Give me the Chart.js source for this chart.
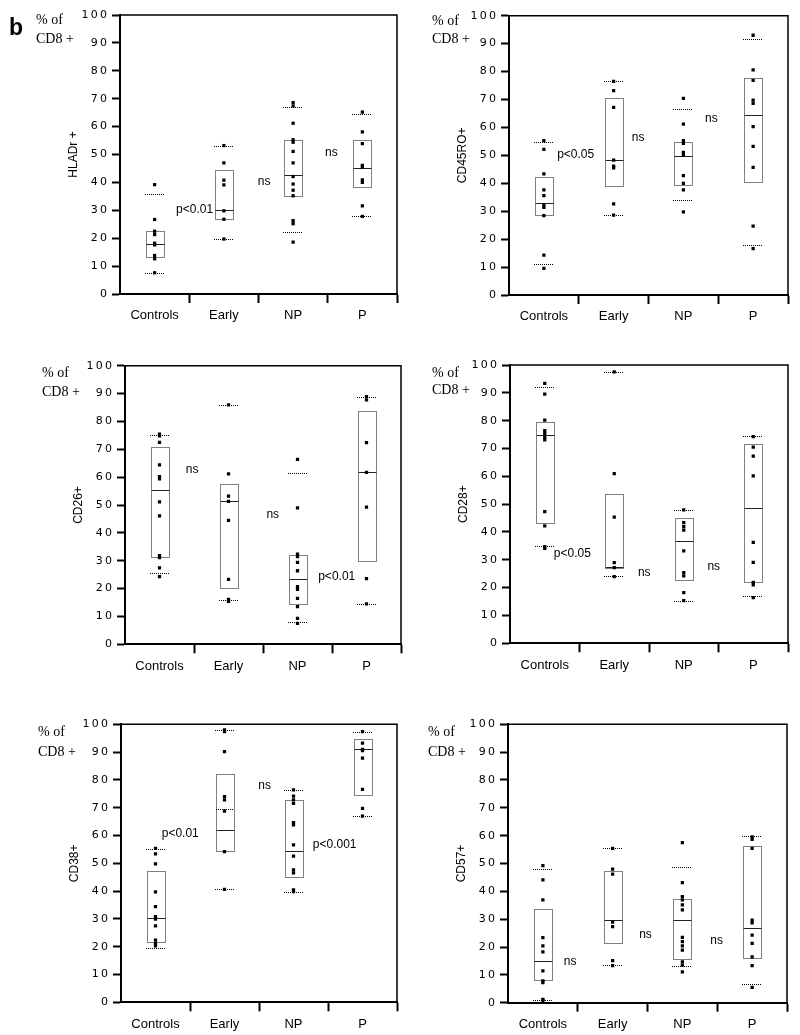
<!DOCTYPE html>
<html><head><meta charset="utf-8">
<script src="https://cdn.jsdelivr.net/npm/chart.js@4.4.0/dist/chart.umd.min.js"></script>
<style>
html,body{margin:0;padding:0;background:#fff;}
#wrap{position:relative;width:800px;height:1035px;overflow:hidden;background:#fff;}
canvas{position:absolute;}
</style></head><body><div id="wrap"></div>
<script>
// ---------------- DATA ----------------
const categories = ['Controls', 'Early', 'NP', 'P'];
const yTickStep = 10;
const yMin = 0, yMax = 100;
const axisTitles = ['HLADr +', 'CD45RO+', 'CD26+', 'CD28+', 'CD38+', 'CD57+'];
const unitLines = ['% of', 'CD8 +'];
const panelLetter = 'b';

// HLADr +
const hladrPoints = [
  [39.2, 26.7, 22.5, 21.3, 18.2, 17.6, 13.8, 12.6, 7.6],
  [53.2, 47.0, 40.8, 39.1, 29.8, 26.8, 19.7],
  [68.6, 67.4, 61.2, 55.3, 54.4, 51.1, 47.0, 42.1, 39.4, 37.2, 35.2, 26.3, 25.2, 18.6],
  [65.2, 58.1, 53.9, 46.1, 45.5, 40.9, 40.0, 31.6, 27.8]
];
const hladrQ1 = [13.1, 26.8, 35.2, 38.2];
const hladrMedian = [17.9, 30.0, 42.5, 45.1];
const hladrQ3 = [22.7, 44.4, 55.3, 55.3];
const hladrP10 = [7.5, 19.7, 22.4, 27.8];
const hladrP90 = [35.9, 53.2, 67.0, 64.6];
const hladrNotes = ['p<0.01', 'ns', 'ns'];

// CD45RO+
const cd45Points = [
  [55.3, 52.1, 43.4, 37.6, 35.6, 32.3, 31.4, 28.4, 14.3, 9.5],
  [76.5, 73.2, 67.2, 48.3, 46.1, 45.5, 32.6, 28.6],
  [70.4, 61.2, 55.3, 54.3, 51.1, 50.2, 42.7, 40.0, 37.6, 29.8],
  [93.0, 80.6, 76.8, 69.8, 68.6, 60.3, 53.2, 45.7, 24.7, 16.6]
];
const cd45Q1 = [28.6, 39.1, 39.4, 40.3];
const cd45Median = [32.9, 48.4, 49.6, 64.6];
const cd45Q3 = [42.1, 70.4, 54.7, 77.7];
const cd45P10 = [11.1, 28.6, 34.0, 17.9];
const cd45P90 = [54.7, 76.5, 66.5, 91.6];
const cd45Notes = ['p<0.05', 'ns', 'ns'];

// CD26+
const cd26Points = [
  [75.4, 74.8, 72.5, 64.4, 60.2, 59.4, 51.1, 46.1, 31.8, 31.1, 27.4, 24.3],
  [85.9, 61.2, 53.2, 51.3, 44.5, 23.3, 16.1, 15.4],
  [66.4, 49.0, 32.4, 31.5, 29.4, 26.4, 20.7, 19.7, 16.5, 13.5, 9.3, 7.5],
  [88.9, 87.7, 72.4, 61.7, 49.2, 23.6, 14.5]
];
const cd26Q1 = [31.5, 20.1, 14.5, 30.0];
const cd26Median = [55.4, 51.6, 23.6, 62.0];
const cd26Q3 = [70.7, 57.4, 31.9, 83.9];
const cd26P10 = [25.6, 15.8, 8.0, 14.5];
const cd26P90 = [75.1, 85.9, 61.6, 88.6];
const cd26Notes = ['ns', 'ns', 'p<0.01'];

// CD28+
const cd28Points = [
  [93.4, 89.5, 80.2, 76.4, 75.4, 74.0, 73.1, 47.3, 42.2, 34.7, 34.1],
  [97.5, 61.0, 45.3, 29.0, 27.2, 24.0],
  [47.9, 43.4, 41.9, 40.7, 33.2, 25.4, 24.2, 18.2, 15.3],
  [74.3, 70.5, 67.3, 60.2, 36.3, 29.1, 21.9, 21.0, 16.4]
];
const cd28Q1 = [43.4, 26.9, 22.8, 22.2];
const cd28Median = [74.9, 27.5, 36.9, 48.5];
const cd28Q3 = [79.4, 53.7, 44.9, 71.6];
const cd28P10 = [35.0, 24.2, 15.3, 17.0];
const cd28P90 = [92.0, 97.5, 47.9, 74.5];
const cd28Notes = ['p<0.05', 'ns', 'ns'];

// CD38+
const cd38Points = [
  [55.4, 53.4, 49.8, 39.7, 34.4, 30.8, 29.9, 27.5, 22.4, 21.2, 20.3],
  [98.0, 97.4, 90.2, 74.0, 72.8, 68.8, 54.2, 40.6],
  [76.4, 74.2, 72.8, 71.6, 64.6, 63.8, 56.6, 52.6, 47.6, 46.6, 40.4, 39.8],
  [97.4, 93.2, 91.0, 90.5, 87.8, 76.6, 69.8, 67.0]
];
const cd38Q1 = [21.8, 54.4, 45.0, 74.7];
const cd38Median = [30.2, 62.0, 54.4, 91.0];
const cd38Q3 = [47.2, 82.0, 72.8, 94.6];
const cd38P10 = [19.7, 40.6, 39.8, 67.0];
const cd38P90 = [55.2, 98.0, 76.4, 97.4];
const cd38Extra = [null, 69.5, null, null];
const cd38Notes = ['p<0.01', 'ns', 'p<0.001'];

// CD57+
const cd57Points = [
  [49.2, 44.1, 36.9, 23.4, 20.4, 18.3, 11.4, 7.8, 7.2, 1.2, 0.7],
  [55.4, 48.0, 46.2, 28.9, 27.3, 15.1, 13.3],
  [57.5, 43.1, 38.1, 36.9, 35.1, 33.3, 23.5, 21.9, 20.4, 18.9, 14.7, 13.5, 11.1],
  [59.6, 58.7, 55.4, 29.7, 28.7, 24.3, 21.3, 16.5, 13.3, 5.5]
];
const cd57Q1 = [8.1, 21.6, 15.6, 16.2];
const cd57Median = [15.0, 29.7, 29.7, 26.7];
const cd57Q3 = [33.7, 47.3, 37.2, 56.3];
const cd57P10 = [1.0, 13.5, 13.2, 6.7];
const cd57P90 = [47.9, 55.4, 48.9, 59.9];
const cd57Notes = ['ns', 'ns', 'ns'];

// --------------- LAYOUT (positions / styles) ---------------
const panels = [
  { title: axisTitles[0], pts: hladrPoints, q1: hladrQ1, med: hladrMedian, q3: hladrQ3, p10: hladrP10, p90: hladrP90, extra: null, notes: hladrNotes,
    canvas: {x: 0, y: 0, w: 405, h: 330}, pad: {left: 66, right: 8, top: 15, bottom: 6},
    notePos: [[0.31, 30.1], [1.49, 40.1], [2.46, 50.5]], unitPos: [36, 20, 39], letter: true },
  { title: axisTitles[1], pts: cd45Points, q1: cd45Q1, med: cd45Median, q3: cd45Q3, p10: cd45P10, p90: cd45P90, extra: null, notes: cd45Notes,
    canvas: {x: 400, y: 0, w: 400, h: 330}, pad: {left: 55, right: 12, top: 15.7, bottom: 5},
    notePos: [[0.19, 50.1], [1.26, 56.2], [2.31, 63.0]], unitPos: [32, 21, 39] },
  { title: axisTitles[2], pts: cd26Points, q1: cd26Q1, med: cd26Median, q3: cd26Q3, p10: cd26P10, p90: cd26P90, extra: null, notes: cd26Notes,
    canvas: {x: 0, y: 330, w: 405, h: 350}, pad: {left: 71, right: 3, top: 35.7, bottom: 5.7},
    notePos: [[0.38, 62.6], [1.55, 46.4], [2.30, 24.2]], unitPos: [42, 43, 62] },
  { title: axisTitles[3], pts: cd28Points, q1: cd28Q1, med: cd28Median, q3: cd28Q3, p10: cd28P10, p90: cd28P90, extra: null, notes: cd28Notes,
    canvas: {x: 400, y: 330, w: 400, h: 350}, pad: {left: 56, right: 12, top: 35, bottom: 6.7},
    notePos: [[0.13, 32.1], [1.34, 25.3], [2.34, 27.4]], unitPos: [32, 43, 60] },
  { title: axisTitles[4], pts: cd38Points, q1: cd38Q1, med: cd38Median, q3: cd38Q3, p10: cd38P10, p90: cd38P90, extra: cd38Extra, notes: cd38Notes,
    canvas: {x: 0, y: 690, w: 405, h: 345}, pad: {left: 67, right: 8, top: 34.3, bottom: 2.7},
    notePos: [[0.09, 60.5], [1.49, 77.8], [2.28, 56.6]], unitPos: [38, 42, 62] },
  { title: axisTitles[5], pts: cd57Points, q1: cd57Q1, med: cd57Median, q3: cd57Q3, p10: cd57P10, p90: cd57P90, extra: null, notes: cd57Notes,
    canvas: {x: 400, y: 690, w: 400, h: 345}, pad: {left: 54, right: 13, top: 34.3, bottom: 2.3},
    notePos: [[0.30, 14.6], [1.38, 24.3], [2.40, 22.2]], unitPos: [28, 42, 62] }
];

const SANS = '"Liberation Sans", Arial, Helvetica, sans-serif';
const SERIF = '"Liberation Serif", "Times New Roman", serif';
Chart.defaults.font.family = SANS;
Chart.defaults.color = '#000';
Chart.defaults.animation = false;

function makePlugin(p) {
  return {
    id: 'boxplot',
    beforeDatasetsDraw(chart) {
      const {ctx} = chart; const x = chart.scales.x, y = chart.scales.y;
      const half = 9, halfP = 10;
      ctx.save();
      ctx.lineWidth = 1;
      for (let i = 0; i < categories.length; i++) {
        const cx = Math.round(x.getPixelForValue(i));
        const top = Math.round(y.getPixelForValue(p.q3[i])) + 0.5;
        const bot = Math.round(y.getPixelForValue(p.q1[i])) + 0.5;
        ctx.strokeStyle = '#000';
        ctx.setLineDash([1, 1]);
        ctx.strokeRect(cx - half + 0.5, top, half * 2, bot - top);
        [p.p10[i], p.p90[i]].forEach(v => {
          const yy = Math.round(y.getPixelForValue(v)) + 0.5;
          ctx.beginPath(); ctx.moveTo(cx - halfP, yy); ctx.lineTo(cx + halfP, yy); ctx.stroke();
        });
        if (p.extra && p.extra[i] != null) {
          const yy = Math.round(y.getPixelForValue(p.extra[i])) + 0.5;
          ctx.beginPath(); ctx.moveTo(cx - half, yy); ctx.lineTo(cx + half, yy); ctx.stroke();
        }
        ctx.setLineDash([]);
        ctx.strokeStyle = '#222';
        const ym = Math.round(y.getPixelForValue(p.med[i])) + 0.5;
        ctx.beginPath(); ctx.moveTo(cx - half + 0.5, ym); ctx.lineTo(cx + half + 0.5, ym); ctx.stroke();
      }
      ctx.restore();
    },
    afterDraw(chart) {
      const {ctx, chartArea: a} = chart; const x = chart.scales.x, y = chart.scales.y;
      ctx.save();
      // frame top & right
      ctx.strokeStyle = '#000'; ctx.lineWidth = 1.5;
      ctx.beginPath(); ctx.moveTo(a.left, a.top); ctx.lineTo(a.right, a.top); ctx.lineTo(a.right, a.bottom); ctx.stroke();
      // notes
      ctx.fillStyle = '#000';
      ctx.font = '12px ' + SANS;
      ctx.textAlign = 'left'; ctx.textBaseline = 'middle';
      p.notes.forEach((t, k) => {
        const [xi, yv] = p.notePos[k];
        ctx.fillText(t, x.getPixelForValue(xi), y.getPixelForValue(yv));
      });
      // unit label
      ctx.font = '14px ' + SERIF;
      ctx.fillText(unitLines[0], p.unitPos[0], p.unitPos[1]);
      ctx.fillText(unitLines[1], p.unitPos[0], p.unitPos[2]);
      if (p.letter) {
        ctx.font = 'bold 23px ' + SANS;
        ctx.textBaseline = 'alphabetic';
        ctx.fillText(panelLetter, 9, 35);
      }
      ctx.restore();
    }
  };
}

const wrap = document.getElementById('wrap');
panels.forEach(p => {
  const cv = document.createElement('canvas');
  cv.width = p.canvas.w; cv.height = p.canvas.h;
  cv.style.left = p.canvas.x + 'px'; cv.style.top = p.canvas.y + 'px';
  cv.style.width = p.canvas.w + 'px'; cv.style.height = p.canvas.h + 'px';
  wrap.appendChild(cv);
  const data = [];
  p.pts.forEach((arr, i) => arr.forEach(v => data.push({x: categories[i], y: v})));
  new Chart(cv, {
    type: 'scatter',
    data: {
      labels: categories,
      datasets: [{ data, pointStyle: 'rect', pointRadius: 2.3, pointBackgroundColor: '#000', pointBorderWidth: 0, pointBorderColor: '#000' }]
    },
    options: {
      responsive: false, devicePixelRatio: 1, events: [],
      layout: { padding: p.pad },
      plugins: { legend: {display: false}, tooltip: {enabled: false} },
      scales: {
        x: {
          type: 'category', labels: categories, offset: true,
          grid: { offset: true, drawOnChartArea: false, drawTicks: true, tickLength: 9, tickWidth: 2,
                  tickColor: c => (c.index === 0 ? 'rgba(0,0,0,0)' : '#000') },
          border: { display: true, color: '#000', width: 2 },
          ticks: { font: {size: 13, family: SANS}, color: '#000', padding: 5, maxRotation: 0, autoSkip: false },
          afterFit: s => { s.height = 30; }
        },
        y: {
          type: 'linear', min: yMin, max: yMax,
          grid: { drawOnChartArea: false, drawTicks: true, tickLength: 8, tickWidth: 2, tickColor: '#000' },
          border: { display: true, color: '#000', width: 2 },
          ticks: { stepSize: yTickStep, padding: 5, color: '#000', font: {size: 11, family: '"DejaVu Sans", sans-serif'},
                   callback: v => String(v).split('').join('\u2009') },
          title: { display: true, text: p.title, color: '#000', font: {size: 12, family: SANS, lineHeight: 1.2}, padding: 0 },
          afterFit: s => { s.width = 54; }
        }
      }
    },
    plugins: [makePlugin(p)]
  });
});
</script>
</body></html>
